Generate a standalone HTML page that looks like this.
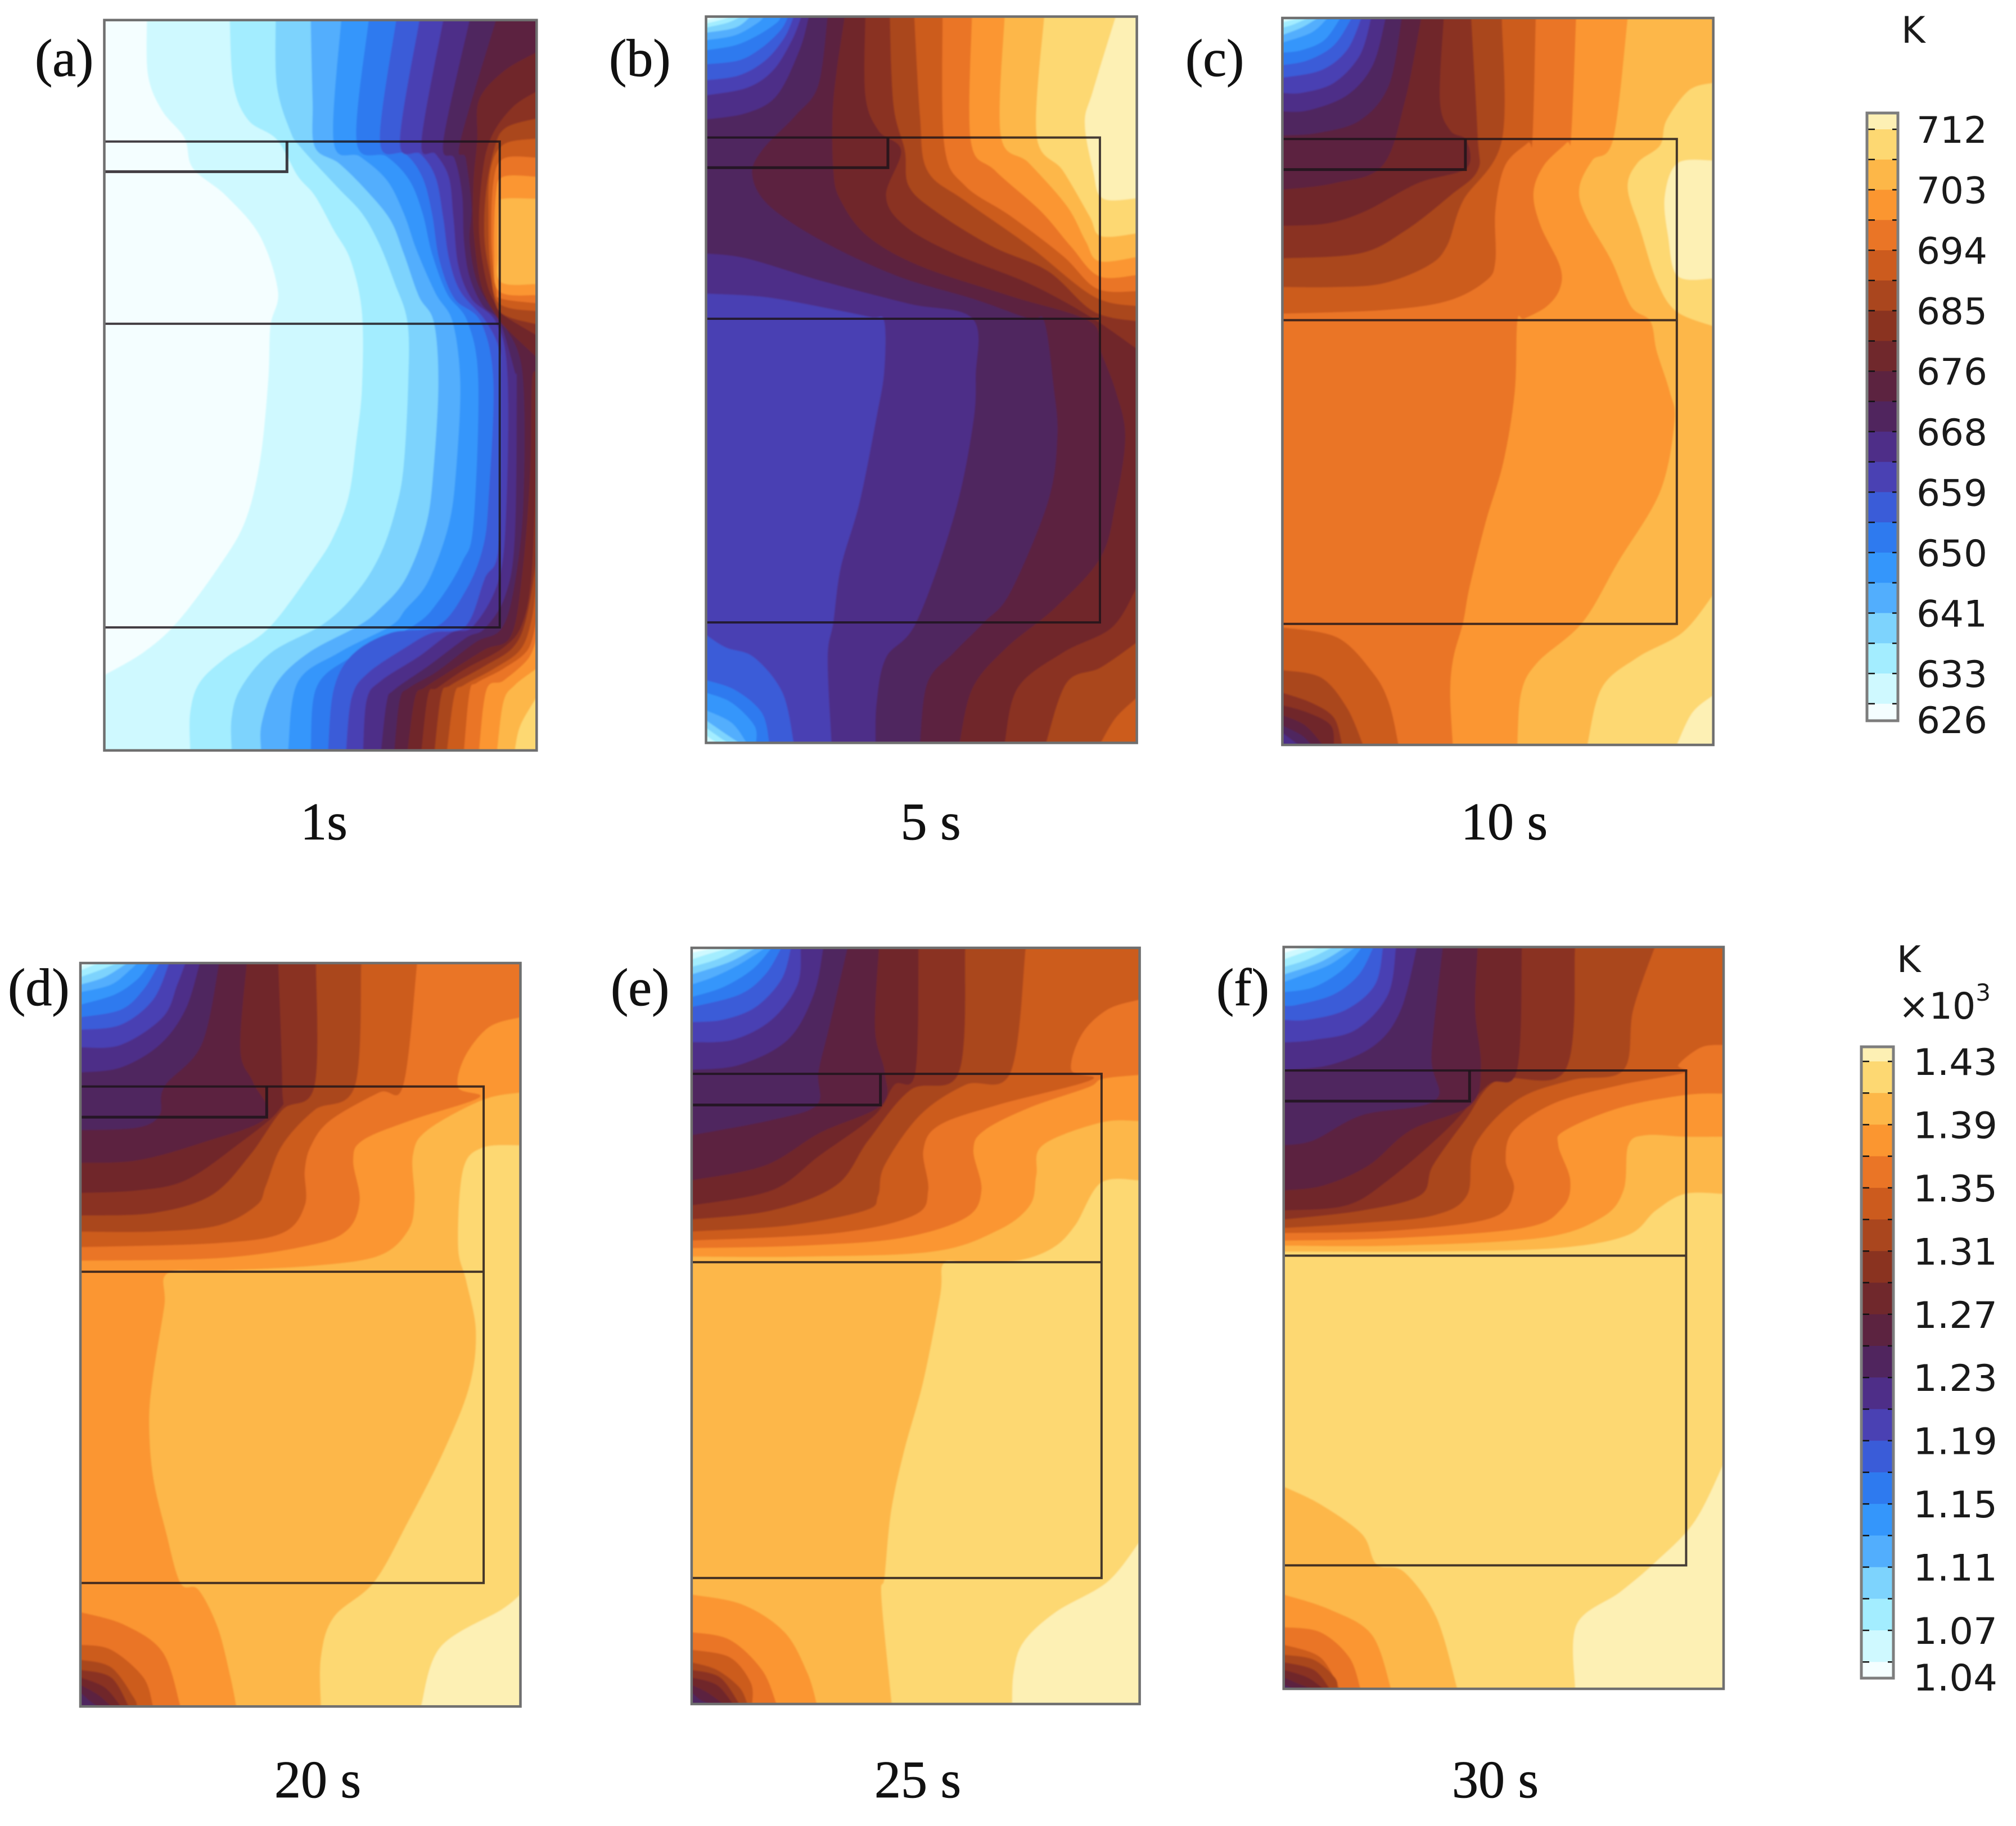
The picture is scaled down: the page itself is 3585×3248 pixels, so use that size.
<!DOCTYPE html>
<html lang="en">
<head>
<meta charset="utf-8">
<title>Temperature contour panels</title>
<style>
html,body{margin:0;padding:0;background:#fff;}
svg{display:block;}
.cap{font-family:"Liberation Serif",serif;font-size:94px;fill:#111;stroke:#111;stroke-width:0.8;}
.cb{font-family:"DejaVu Sans",sans-serif;font-size:65px;fill:#1a1a1a;}
</style>
</head>
<body>
<svg id="figure" xmlns="http://www.w3.org/2000/svg" width="3585" height="3248" viewBox="0 0 3585 3248">
  <defs>
    <filter id="soft" x="-2%" y="-2%" width="104%" height="104%"><feGaussianBlur stdDeviation="1.4"/></filter>
  </defs>
  <rect x="0" y="0" width="3585" height="3248" fill="#fff"/>
  <g id="panels"></g>
  <g id="bars"></g>

  <text class="cap" x="62" y="135">(a)</text>
  <text class="cap" x="1083" y="135">(b)</text>
  <text class="cap" x="2108" y="135">(c)</text>
  <text class="cap" x="14" y="1788">(d)</text>
  <text class="cap" x="1086" y="1788">(e)</text>
  <text class="cap" x="2163" y="1788">(f)</text>

  <text class="cap" x="576" y="1493" text-anchor="middle">1s</text>
  <text class="cap" x="1655" y="1493" text-anchor="middle">5 s</text>
  <text class="cap" x="2675" y="1493" text-anchor="middle">10 s</text>
  <text class="cap" x="565" y="3197" text-anchor="middle">20 s</text>
  <text class="cap" x="1632" y="3197" text-anchor="middle">25 s</text>
  <text class="cap" x="2659" y="3197" text-anchor="middle">30 s</text>

  <text class="cb" x="3381" y="76">K</text>
  <text class="cb" x="3373" y="1729">K</text>
  <text class="cb" x="3376" y="1812" font-size="68">×10<tspan font-size="42" dy="-32">3</tspan></text>
</svg>

<script>
// Colour of each contour band, coldest (0) to hottest (20).
const bandColors = ['#f4feff','#cff9ff','#a3edff','#7dd3fd','#52aefd','#3496fb','#2e7aef','#3a5cd8','#4a41b3','#4e2e88','#50255e','#5c2340','#70282c','#8a3320','#aa461e','#cc5b1e','#ea7526','#fb9630','#fdb748','#fdd872','#fdf0b4'];

// Colour-bar tick labels.
const topBarValues = [712,703,694,685,676,668,659,650,641,633,626];
const bottomBarValues = [1.43,1.39,1.35,1.31,1.27,1.23,1.19,1.15,1.11,1.07,1.04];

// Each contour: [band level, closing domain corners, [x,y, x,y, ...] in panel mesh units].
const contoursA = [
[1,'bl br tr',[390,40,393,150,430,220,490,275,512,335,600,390,690,470,738,580,718,650,712,760,690,920,650,1040,580,1130,470,1240,380,1300,277,1345]],
[2,'br tr',[610,40,620,170,660,240,735,278,790,350,836,390,886,458,931,519,961,623,961,773,946,880,926,988,886,1068,836,1129,715,1250,600,1310,530,1360,505,1420,505,1495]],
[3,'br tr',[732,40,735,170,770,260,800,295,896,373,961,425,1007,486,1047,562,1082,642,1084,762,1072,927,1052,1011,1012,1101,951,1176,861,1242,720,1300,640,1370,615,1430,615,1495]],
[4,'br tr',[825,40,830,200,836,293,901,326,976,382,1037,439,1072,505,1112,590,1152,642,1164,762,1152,927,1132,1044,1077,1153,1007,1214,951,1247,820,1300,735,1360,695,1440,693,1495]],
[5,'br tr',[906,40,886,283,956,312,1027,359,1072,425,1107,500,1157,585,1202,642,1222,762,1212,927,1192,1044,1137,1158,1077,1214,1037,1247,900,1300,790,1360,765,1495]],
[6,'br tr',[979,40,947,283,1027,312,1087,359,1122,425,1147,505,1187,585,1242,642,1270,762,1257,1044,1227,1120,1162,1200,1097,1247,930,1310,840,1370,825,1495]],
[7,'br tr',[1052,40,1009,283,1077,307,1122,354,1147,425,1167,519,1207,595,1277,642,1310,762,1297,997,1282,1092,1237,1176,1162,1247,1037,1261,936,1304,886,1374,871,1495]],
[8,'br tr',[1114,40,1062,283,1117,307,1157,354,1177,434,1192,514,1222,580,1287,637,1325,694,1330,762,1325,1082,1287,1153,1237,1247,1147,1261,1077,1290,977,1341,934,1389,919,1495]],
[9,'br tr',[1177,40,1119,283,1157,307,1192,354,1204,434,1217,529,1252,595,1317,642,1347,741,1345,1000,1325,1153,1257,1247,1197,1261,1112,1308,1012,1356,974,1393,964,1495]],
[10,'br tr',[1247,40,1177,283,1207,316,1227,387,1232,481,1247,552,1282,609,1327,642,1367,741,1372,762,1367,1068,1342,1186,1287,1252,1237,1271,1137,1327,1047,1374,1027,1398,1012,1495]],
[11,'br tr',[1317,40,1222,283,1237,316,1252,411,1247,481,1267,562,1312,623,1337,646,1387,741,1390,997,1367,1162,1332,1252,1262,1280,1162,1337,1087,1370,1062,1393,1047,1495]],
[12,'',[1425,104,1337,142,1272,199,1267,279,1257,364,1257,458,1277,566,1317,628,1345,655,1425,712]],
[12,'br',[1425,740,1412,762,1407,950,1387,1139,1357,1266,1287,1294,1187,1341,1127,1370,1102,1389,1082,1495]],
[13,'',[1425,182,1362,213,1307,269,1282,340,1272,458,1292,562,1322,613,1345,632,1425,668]],
[13,'br',[1425,903,1412,1139,1387,1242,1337,1290,1237,1332,1162,1370,1137,1384,1119,1495]],
[14,'',[1425,236,1342,255,1312,298,1290,387,1287,481,1307,566,1330,623,1425,646]],
[14,'br',[1425,1115,1397,1233,1362,1290,1287,1327,1197,1365,1172,1384,1154,1495]],
[15,'',[1425,276,1337,288,1302,340,1297,434,1302,528,1325,604,1425,620]],
[15,'br',[1425,1153,1412,1233,1382,1294,1312,1332,1232,1365,1207,1384,1187,1495]],
[16,'',[1425,314,1337,316,1310,364,1305,481,1317,576,1332,595,1425,604]],
[16,'br',[1425,1233,1402,1294,1337,1332,1267,1360,1247,1379,1232,1495]],
[17,'',[1425,352,1337,352,1317,387,1312,505,1325,580,1425,588]],
[17,'br',[1425,1271,1402,1313,1337,1356,1292,1374,1272,1495]],
[18,'',[1425,396,1337,396,1325,411,1322,505,1330,562,1425,566]],
[18,'br',[1425,1332,1367,1365,1337,1398,1320,1495]],
[19,'br',[1425,1389,1382,1445,1367,1495]]
];

const contoursB = [
[9,'br tr tl',[292,585,450,592,620,615,730,632,765,640,765,740,745,830,700,1000,650,1130,630,1240,615,1310,625,1480]],
[10,'br tr tl',[292,505,400,515,600,560,830,605,1000,635,1008,750,1000,850,950,1030,850,1240,770,1310,745,1400,742,1480]],
[11,'br tr',[615,33,590,170,530,230,440,300,415,350,460,410,600,480,800,550,1000,595,1150,635,1190,640,1215,770,1225,870,1200,1000,1100,1180,1030,1240,950,1300,880,1360,860,1480]],
[12,'br tr',[660,33,630,200,630,340,650,400,720,470,860,530,1100,590,1310,640,1340,700,1380,780,1405,870,1380,1000,1340,1110,1220,1210,1090,1290,1000,1370,965,1480]],
[13,'tr',[715,33,715,190,750,260,810,300,770,390,820,450,950,505,1150,565,1310,630,1436,695]],
[13,'br',[1436,1170,1370,1250,1240,1300,1120,1370,1085,1480]],
[14,'tr',[780,33,790,210,820,300,830,370,900,420,1050,490,1200,540,1320,620,1436,640]],
[14,'br',[1436,1280,1340,1330,1250,1360,1195,1480]],
[15,'tr',[845,33,860,230,880,340,980,400,1150,490,1320,590,1436,610]],
[15,'br',[1436,1390,1380,1430,1340,1480]],
[16,'tr',[920,33,925,290,980,370,1100,430,1240,510,1330,575,1436,580]],
[17,'tr',[998,33,995,280,1060,340,1180,420,1260,490,1335,550,1436,548]],
[18,'tr',[1085,33,1075,270,1150,325,1250,410,1300,480,1335,520,1436,512]],
[19,'tr',[1190,33,1170,270,1240,340,1310,430,1340,470,1436,465]],
[20,'tr',[1380,33,1320,180,1298,245,1320,340,1345,395,1436,395]],
[9,'tl',[292,238,400,225,480,190,540,100,565,33]],
[8,'tl',[292,190,400,175,470,140,520,80,545,33]],
[7,'tl',[292,160,380,150,450,120,500,75,525,33]],
[6,'tl',[292,128,380,120,440,95,490,60,510,33]],
[5,'tl',[292,100,370,90,430,70,480,45,490,33]],
[4,'tl',[292,80,370,70,430,45,445,33]],
[3,'tl',[292,65,370,55,410,33]],
[2,'tl',[292,55,350,45,385,33]],
[1,'tl',[292,47,330,40,360,33]],
[0,'tl',[292,40,330,33]],
[7,'bl',[292,1265,345,1290,420,1310,495,1380,525,1480]],
[6,'bl',[292,1355,370,1375,440,1420,460,1480]],
[5,'bl',[292,1380,360,1400,420,1445,425,1480]],
[4,'bl',[292,1415,360,1440,400,1480]],
[3,'bl',[292,1435,340,1460,380,1480]],
[2,'bl',[292,1450,330,1470,350,1480]],
[1,'bl',[292,1465,320,1480]]
];

const contoursC = [
[17,'br tr',[1050,36,1035,270,1020,285,950,330,918,385,940,450,1000,530,1000,575,960,610,890,635,868,640,860,780,825,920,770,1040,720,1170,700,1240,670,1310,660,1380,668,1484]],
[18,'br tr',[1210,36,1165,277,1100,320,1060,375,1080,430,1160,520,1220,610,1280,640,1300,700,1340,780,1355,840,1310,980,1180,1120,1070,1240,930,1320,880,1380,868,1484]],
[19,'',[1475,165,1400,180,1330,240,1310,290,1240,325,1210,375,1250,460,1300,560,1360,620,1475,650]],
[19,'br',[1475,1185,1380,1260,1240,1310,1130,1370,1085,1484]],
[20,'',[1475,320,1365,325,1325,390,1335,470,1365,550,1475,555]],
[20,'br',[1475,1385,1410,1420,1362,1484]],
[15,'tl',[925,36,915,275,900,285,830,330,800,420,800,520,770,560,650,600,450,618,140,625]],
[14,'tl',[820,36,820,280,700,400,650,490,590,530,450,565,300,572,140,572]],
[13,'tl',[725,36,745,270,745,340,660,390,520,460,380,505,140,515]],
[12,'tl',[640,36,628,200,660,260,710,280,710,335,560,365,400,420,280,445,140,450]],
[11,'tl',[570,36,520,200,450,330,300,365,140,378]],
[10,'tl',[510,36,470,170,380,240,250,265,140,270]],
[9,'tl',[460,36,420,130,340,190,220,220,140,222]],
[8,'tl',[415,36,380,110,300,165,200,185,140,185]],
[7,'tl',[385,36,340,100,260,140,140,155]],
[6,'tl',[355,36,300,90,220,120,140,130]],
[5,'tl',[320,36,270,80,200,100,140,105]],
[4,'tl',[280,36,230,65,140,85]],
[3,'tl',[250,36,200,55,140,70]],
[2,'tl',[220,36,170,50,140,55]],
[1,'tl',[195,36,140,45]],
[0,'tl',[170,36,140,40]],
[15,'bl',[140,1250,310,1270,420,1340,470,1400,500,1484]],
[14,'bl',[140,1335,260,1350,340,1410,390,1484]],
[13,'bl',[140,1380,230,1400,300,1430,325,1484]],
[12,'bl',[140,1405,220,1420,290,1445,300,1484]],
[11,'bl',[140,1425,210,1445,265,1484]],
[10,'bl',[140,1445,200,1465,230,1484]],
[9,'bl',[140,1460,190,1484]]
];

const contoursD = [
[19,'br',[1438,400,1320,405,1260,450,1245,600,1270,670,1300,770,1280,880,1200,1010,1090,1150,985,1270,860,1340,820,1420,820,1518]],
[20,'br',[1438,1295,1380,1325,1190,1400,1130,1518]],
[17,'bl tl tr',[1438,295,1320,310,1150,370,1105,420,1110,510,1090,570,1000,620,800,640,500,650,345,655,335,720,300,860,288,950,300,1060,340,1170,385,1272,440,1285,500,1360,540,1460,558,1518]],
[16,'tl tr',[1438,145,1340,165,1265,225,1245,285,1310,305,1100,350,950,390,920,430,940,510,900,570,780,600,500,625,75,630]],
[15,'tl',[1118,37,1075,280,1000,295,850,350,790,400,770,450,770,520,700,575,500,595,75,603]],
[14,'tl',[945,37,925,282,800,330,700,400,650,480,620,520,500,560,300,572,75,572]],
[13,'tl',[805,37,800,282,700,330,600,420,480,500,300,535,75,540]],
[12,'tl',[688,37,700,280,690,330,560,400,400,470,250,490,75,495]],
[11,'tl',[590,37,570,210,610,275,650,345,450,395,250,430,75,435]],
[10,'tl',[505,37,450,200,335,283,320,340,250,365,75,370]],
[9,'tl',[445,37,400,130,320,200,200,245,75,255]],
[8,'tl',[400,37,375,80,330,145,200,200,75,205]],
[7,'tl',[350,37,300,110,200,160,75,170]],
[6,'tl',[320,37,270,90,200,130,75,145]],
[5,'tl',[290,37,250,70,180,100,75,120]],
[4,'tl',[250,37,230,50,170,80,75,95]],
[3,'tl',[220,37,150,65,75,80]],
[2,'tl',[190,37,140,50,75,65]],
[1,'tl',[130,37,75,52]],
[0,'tl',[100,37,75,44]],
[16,'bl',[75,1330,210,1355,330,1410,385,1518]],
[15,'bl',[75,1395,170,1405,270,1460,300,1518]],
[14,'bl',[75,1425,170,1440,240,1500,250,1518]],
[13,'bl',[75,1445,170,1460,225,1518]],
[12,'bl',[75,1460,150,1480,200,1518]],
[11,'bl',[75,1475,130,1495,170,1518]],
[10,'bl',[75,1490,110,1510,130,1518]]
];

const contoursE = [
[19,'br',[1440,470,1320,475,1240,560,1170,605,1060,630,900,633,832,636,822,700,770,870,710,1010,670,1130,650,1260,640,1300,672,1513]],
[20,'br',[1440,1190,1340,1270,1180,1330,1080,1390,1050,1450,1045,1513]],
[17,'tl tr',[1440,352,1320,355,1140,400,1120,460,1100,520,1000,570,800,612,400,622,52,622]],
[16,'tl tr',[1440,260,1325,268,1280,285,1100,325,960,370,925,410,950,490,900,545,700,585,400,600,52,605]],
[15,'tl tr',[1440,110,1340,130,1260,180,1228,250,1290,270,1000,320,820,360,770,410,785,490,740,540,500,575,52,590]],
[14,'tl',[1087,7,1040,255,900,280,760,340,650,440,630,500,590,530,350,560,52,572]],
[13,'tl',[900,7,880,255,730,290,600,390,500,480,300,530,52,548]],
[12,'tl',[755,7,745,255,680,280,620,340,450,420,300,490,52,520]],
[11,'tl',[632,7,620,170,650,255,640,320,450,375,280,440,52,470]],
[10,'tl',[535,7,480,160,445,255,440,320,300,350,52,380]],
[9,'tl',[460,7,430,100,350,190,200,240,52,250]],
[8,'tl',[390,7,380,80,300,150,180,190,52,195]],
[7,'tl',[360,7,330,70,250,125,150,150,52,155]],
[6,'tl',[330,7,280,60,200,100,52,125]],
[5,'tl',[300,7,240,50,150,85,52,105]],
[4,'tl',[280,7,200,40,120,65,52,80]],
[3,'tl',[250,7,170,35,52,60]],
[2,'tl',[210,7,130,30,52,45]],
[1,'tl',[170,7,100,20,52,30]],
[0,'tl',[120,7,52,17]],
[17,'bl',[52,1295,210,1315,340,1370,410,1450,440,1513]],
[16,'bl',[52,1370,170,1385,270,1445,315,1513]],
[15,'bl',[52,1405,170,1420,235,1470,240,1513]],
[14,'bl',[52,1430,130,1445,200,1480,225,1513]],
[13,'bl',[52,1445,140,1460,200,1513]],
[12,'bl',[52,1460,130,1475,180,1513]],
[11,'bl',[52,1475,100,1490,150,1513]],
[10,'bl',[52,1490,80,1505,110,1513]]
];

const contoursF = [
[20,'br',[1420,1035,1330,1150,1210,1230,1100,1290,965,1355,960,1483]],
[18,'tl tr',[1420,497,1300,497,1210,530,1120,580,900,605,500,612,57,612]],
[17,'tl tr',[1420,383,1300,383,1180,380,1125,400,1110,490,1040,545,850,585,400,600,57,600]],
[16,'tl tr',[1420,297,1300,300,1100,325,930,370,908,400,945,470,920,525,800,565,400,585,57,590]],
[15,'tl tr',[1420,200,1350,205,1280,240,1300,255,1100,280,900,315,770,370,745,430,770,490,700,545,400,570,57,575]],
[14,'tl',[1207,5,1140,130,1110,250,950,270,780,310,650,400,625,500,520,540,300,555,57,565]],
[13,'tl',[960,5,930,250,720,270,620,350,520,440,480,500,300,530,57,548]],
[12,'tl',[795,5,780,250,690,280,560,370,380,470,250,520,57,530]],
[11,'tl',[658,5,650,130,668,245,635,320,450,370,320,440,180,480,57,490]],
[10,'tl',[550,5,515,220,527,310,300,340,150,390,57,400]],
[9,'tl',[470,5,420,130,340,200,200,240,57,250]],
[8,'tl',[405,5,380,100,280,170,150,190,57,195]],
[7,'tl',[365,5,340,80,250,130,130,150,57,150]],
[6,'tl',[335,5,290,60,210,100,100,120,57,122]],
[5,'tl',[300,5,240,50,150,85,57,95]],
[4,'tl',[280,5,200,40,120,60,57,75]],
[3,'tl',[250,5,170,35,57,60]],
[2,'tl',[210,5,130,30,57,45]],
[1,'tl',[170,5,100,20,57,30]],
[0,'tl',[120,5,57,17]],
[18,'bl',[57,1080,170,1115,300,1175,345,1235,430,1250,530,1340,595,1483]],
[17,'bl',[57,1295,200,1325,330,1375,390,1483]],
[16,'bl',[57,1360,170,1370,260,1420,295,1483]],
[15,'bl',[57,1395,170,1420,230,1483]],
[14,'bl',[57,1415,150,1425,215,1460,225,1483]],
[13,'bl',[57,1430,150,1445,200,1483]],
[12,'bl',[57,1445,130,1460,180,1483]],
[11,'bl',[57,1460,110,1475,150,1483]],
[10,'bl',[57,1475,90,1483]]
];

// Base band filling each panel before its contours are painted.
const baseLevels = {a:0,b:8,c:16,d:18,e:18,f:19};

const SVGNS = 'http://www.w3.org/2000/svg';
function mk(parent, tag, attrs){
  const el = document.createElementNS(SVGNS, tag);
  for (const k in attrs) el.setAttribute(k, attrs[k]);
  parent.appendChild(el);
  return el;
}
function linScale(d0, d1, r0, r1){
  return function(v){ return r0 + (v - d0) * (r1 - r0) / (d1 - d0); };
}
function smoothPath(p){
  let d = 'M' + p[0][0].toFixed(1) + ' ' + p[0][1].toFixed(1);
  for (let i = 0; i < p.length - 1; i++){
    const a = p[Math.max(i-1,0)], b = p[i], c = p[i+1], e = p[Math.min(i+2,p.length-1)];
    const c1x = b[0] + (c[0]-a[0])/6, c1y = b[1] + (c[1]-a[1])/6;
    const c2x = c[0] - (e[0]-b[0])/6, c2y = c[1] - (e[1]-b[1])/6;
    d += 'C' + c1x.toFixed(1) + ' ' + c1y.toFixed(1) + ' ' + c2x.toFixed(1) + ' ' + c2y.toFixed(1) + ' ' + c[0].toFixed(1) + ' ' + c[1].toFixed(1);
  }
  return d;
}

function drawPanel(id, contours, xDomain, yDomain, box, walls){
  const root = document.getElementById('panels');
  const X = linScale(xDomain[0], xDomain[1], box[0], box[2]);
  const Y = linScale(yDomain[0], yDomain[1], box[1], box[3]);
  const g = mk(root, 'g', {});
  
  
  const clip = mk(g, 'clipPath', {id:'clip-' + id});
  mk(clip, 'rect', {x:box[0], y:box[1], width:box[2]-box[0], height:box[3]-box[1]});
  const clipped = mk(g, 'g', {'clip-path':'url(#clip-' + id + ')'});
  const field = mk(clipped, 'g', {filter:'url(#soft)'});
  const base = mk(field, 'rect', {x:box[0]-6, y:box[1]-6, width:box[2]-box[0]+12, height:box[3]-box[1]+12, fill:bandColors[baseLevels[id]]});
  
  
  const corners = {tl:[box[0]-8,box[1]-8], tr:[box[2]+8,box[1]-8], bl:[box[0]-8,box[3]+8], br:[box[2]+8,box[3]+8]};
  contours.forEach(function(item){
    const pts = [];
    for (let i = 0; i < item[2].length; i += 2) pts.push([X(item[2][i]), Y(item[2][i+1])]);
    let d = smoothPath(pts);
    item[1].split(' ').filter(Boolean).forEach(function(c){ d += 'L' + corners[c][0] + ' ' + corners[c][1]; });
    d += 'Z';
    const band = mk(field, 'path', {d:d, fill:bandColors[item[0]]});
    
    
  });
  const wallStyle = {fill:'none', stroke:'#1c141a', 'stroke-opacity':'0.82', 'stroke-width':'4'};
  const right = X(walls[0]), t = Y(walls[1]), m = Y(walls[2]), b = Y(walls[3]), nx = X(walls[4]), ny = Y(walls[5]);
  const outline = mk(g, 'path', Object.assign({d:'M'+box[0]+' '+t+'H'+right+'V'+b+'H'+box[0]+'M'+box[0]+' '+m+'H'+right}, wallStyle));
  
  
  const notch = mk(g, 'path', Object.assign({d:'M'+box[0]+' '+ny+'H'+nx+'V'+t}, wallStyle, {'stroke-width':'5'}));
  
  
  const frame = mk(g, 'rect', {x:box[0], y:box[1], width:box[2]-box[0], height:box[3]-box[1], fill:'none', stroke:'#6f6f6f', 'stroke-width':'4.5'});
  
  
}

drawPanel('a', contoursA, [277,1425], [40,1495], [185.5,35.7,954.3,1334.8], [1327,282,645,1250,762,342]);
drawPanel('b', contoursB, [292,1436], [33,1480], [1255.5,29.5,2021.6,1321.4], [1338,274,635,1240,775,334]);
drawPanel('c', contoursC, [140,1475], [36,1484], [2280.4,32,3046.7,1325], [1362,277,638,1243,707,338]);
drawPanel('d', contoursD, [75,1438], [37,1518], [143,1713,925.5,3035.4], [1324,283,652,1272,652,344]);
drawPanel('e', contoursE, [52,1440], [7,1513], [1229.9,1686,2026.6,3031], [1322,258,633,1262,637,320]);
drawPanel('f', contoursF, [57,1420], [5,1483], [2282.7,1684.5,3065,3004], [1304,251,620,1237,633,312]);

function drawBar(id, values, box, yScale, decimals, labelX, labelWidth){
  const root = document.getElementById('bars');
  const g = mk(root, 'g', {});
  
  
  const top = values[0], second = values[values.length - 2];
  const step = (top - second) / 18;
  const tick = function(i){ return yScale(top - i * step); };
  for (let i = 0; i < bandColors.length; i++){
    const y0 = i === 0 ? box[1] : tick(i-1);
    const y1 = i === bandColors.length - 1 ? box[3] : tick(i);
    const band = mk(g, 'rect', {x:box[0], y:y0, width:box[2]-box[0], height:y1-y0+0.5, fill:bandColors[bandColors.length-1-i]});
    
    
  }
  for (let i = 0; i < 20; i++){
    const y = tick(i);
    const l = mk(g, 'path', {d:'M'+box[0]+' '+y+'h14M'+(box[2]-10)+' '+y+'h10', stroke:'#111', 'stroke-width':'2.5', fill:'none'});
    
    
  }
  const edge = mk(g, 'path', {d:'M'+box[0]+' '+box[3]+'V'+box[1]+'H'+box[2]+'V'+box[3]+'Z', fill:'none', stroke:'#7d7d7d', 'stroke-width':'5'});
  
  
  values.forEach(function(v, i){
    const yc = i === values.length - 1 ? box[3] - 2 : tick(2 * i);
    const t = mk(g, 'text', {x:labelX, y:yc + 24, class:'cb', textLength:labelWidth, lengthAdjust:'spacingAndGlyphs'});
    
    
    t.textContent = v.toFixed(decimals);
  });
}
drawBar('top', topBarValues, [3320,201,3375,1282], linScale(712,633,230,1198), 0, 3408, 126);
drawBar('bottom', bottomBarValues, [3310,1862,3367,2985], linScale(1.43,1.07,1888,2900), 2, 3402, 150);
</script>
</body>
</html>
